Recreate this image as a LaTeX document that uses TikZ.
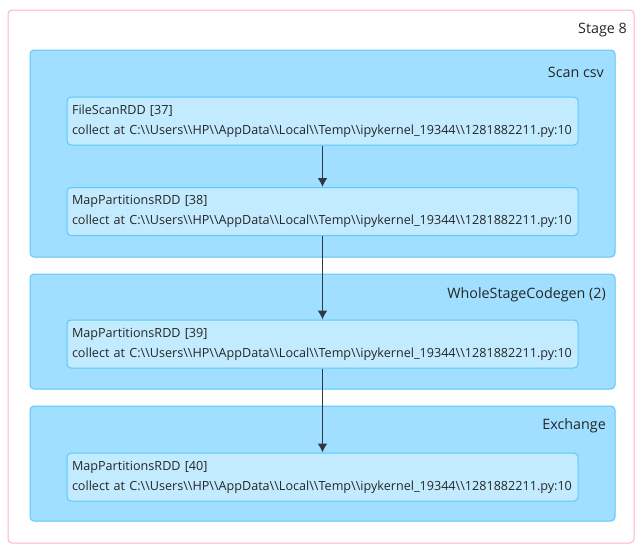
\documentclass[tikz,border=0pt]{standalone}
\usepackage{fontspec}
\setmainfont{Open Sans}
\usetikzlibrary{arrows.meta}
\definecolor{stagepink}{HTML}{FFB3C0}
\definecolor{clusterfill}{HTML}{A0DFFF}
\definecolor{clusterline}{HTML}{5CC8FA}
\definecolor{rddfill}{HTML}{C3EBFF}
\definecolor{edgegray}{HTML}{333840}
\definecolor{textgray}{HTML}{262626}
\newcommand{\bsl}{\textbackslash\textbackslash}
\newcommand{\callsite}{collect at C:\bsl Users\bsl HP\bsl AppData\bsl Local\bsl Temp\bsl ipykernel\_19344\bsl 1281882211.py:10}
\begin{document}
\begin{tikzpicture}[x=1pt,y=-1pt,line join=round,>={Latex[length=9pt,width=10pt]},font=\fontsize{12.6}{20}\selectfont,
	stagebox/.style={draw=stagepink,line width=1pt,fill=white,rounded corners=4pt,inner sep=0pt,minimum width=626pt,minimum height=533pt},
	cluster/.style={draw=clusterline,line width=1pt,fill=clusterfill,rounded corners=4pt,inner sep=0pt,minimum width=585pt},
	rdd/.style={draw=clusterline,line width=1pt,fill=rddfill,rounded corners=4pt,minimum width=511pt,minimum height=48pt,text width=501pt,align=left,inner xsep=5pt,inner ysep=0pt,text=textgray},
	title/.style={anchor=east,inner sep=0pt,text=textgray,font=\fontsize{14.3}{17}\selectfont}]
	\useasboundingbox (0,0) rectangle (642,552);
	%Stage
	\node[stagebox] (stage) at (321,276.5) {};
	\node[title] (stagetitle) at (627,30) {Stage 8};
	%Clusters
	\node[cluster,minimum height=207pt] (scan) at (322.5,153.5) {};
	\node[title] (scantitle) at (604,72) {Scan csv};
	\node[cluster,minimum height=115pt] (codegen) at (322.5,331.5) {};
	\node[title] (codegentitle) at (606,295) {WholeStageCodegen (2)};
	\node[cluster,minimum height=115pt] (exchange) at (322.5,463.5) {};
	\node[title] (exchangetitle) at (606,426) {Exchange};
	%RDDs
	\node[rdd] (rdd37) at (322.5,121) {FileScanRDD [37]\\\callsite};
	\node[rdd] (rdd38) at (322.5,211.5) {MapPartitionsRDD [38]\\\callsite};
	\node[rdd] (rdd39) at (322.5,344) {MapPartitionsRDD [39]\\\callsite};
	\node[rdd] (rdd40) at (322.5,477) {MapPartitionsRDD [40]\\\callsite};
	%Edges
	\draw[->,edgegray,line width=1.6pt] (rdd37)--(rdd38);
	\draw[->,edgegray,line width=1.6pt] (rdd38)--(rdd39);
	\draw[->,edgegray,line width=1.6pt] (rdd39)--(rdd40);
\end{tikzpicture}
\end{document}
